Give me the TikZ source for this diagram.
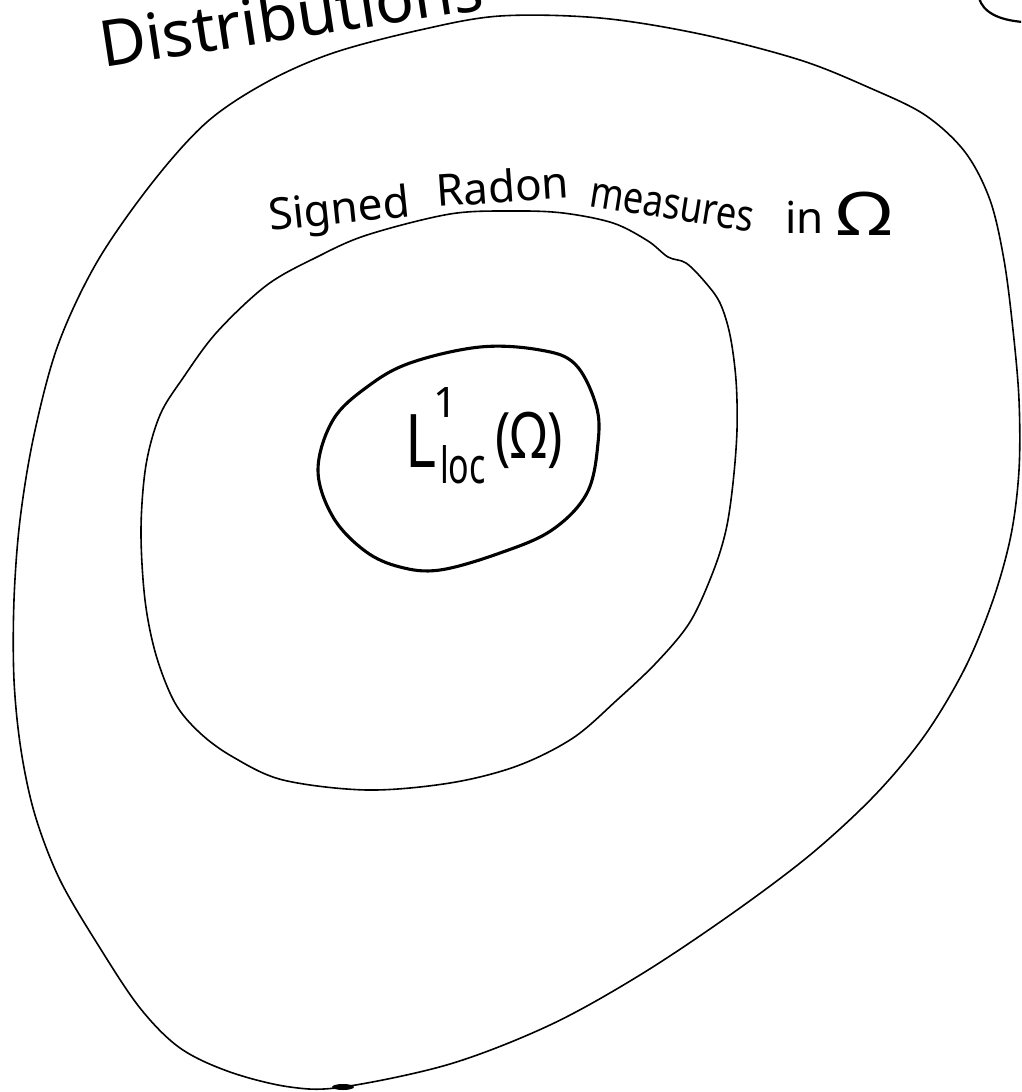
\documentclass[tikz,border=0pt]{standalone}
\usepackage{fontspec}
\setmainfont{Noto Sans}
\begin{document}
\begin{tikzpicture}[x=1pt,y=-1pt,
  thinline/.style={line width=1.6pt, line join=round, line cap=round},
  thickline/.style={line width=3.1pt, line join=round, line cap=round},
  word/.style={inner sep=0pt, anchor=base west, font=\fontsize{44}{48}\selectfont},
  glyph/.style={inner sep=0pt, anchor=base west}]
\useasboundingbox[fill=white] (0,0) rectangle (1021,1092);
\clip (0,0) rectangle (1021,1092);
% outer blob: Distributions
\draw[thinline] plot[smooth cycle, tension=0.55] coordinates {
  (152,183) (207,122) (267,82) (333,53) (420,30) (500,16) (600,18) (700,34)
  (800,60) (870,88) (925,115) (965,152) (990,200) (1004,260) (1013,330)
  (1019,400) (1019,470) (1011,535) (993,600) (965,668) (925,735) (875,795)
  (810,855) (730,915) (640,975) (550,1025) (450,1064) (343,1087) (290,1087)
  (230,1072) (180,1048) (140,1008) (100,948) (60,880) (35,815) (21,750)
  (14,680) (14,600) (20,520) (34,435) (58,345) (97,262)};
\fill (343,1087) ellipse (11pt and 3pt);
% middle blob: Signed Radon measures
\draw[thinline] plot[smooth cycle, tension=0.55] coordinates {
  (160,415) (183,378) (217,332) (267,285) (317,257) (367,235) (450,214)
  (513,211) (563,213) (613,223) (648,241) (668,257) (686,263) (705,282)
  (720,303) (730,335) (736,380) (737,430) (733,483) (726,530) (713,572)
  (690,622) (657,662) (617,700) (573,738) (517,766) (450,783) (367,790)
  (283,780) (233,757) (200,733) (175,703) (156,655) (145,600) (141,530)
  (146,465)};
% inner ellipse: L^1_loc
\draw[thickline] plot[smooth cycle, tension=0.6] coordinates {
  (318,470) (333,420) (367,387) (410,363) (480,347) (540,350) (575,364)
  (596,405) (598,443) (587,493) (552,530) (500,553) (440,570) (400,567)
  (365,551) (333,517)};
% partial circle at top right
\draw[line width=2.2pt, line cap=round] (979,-2) .. controls (983,12) and (998,20) .. (1023,22);
% labels
\node[glyph, rotate=8.7, font=\fontsize{64}{68}\selectfont] (dist) at (103,68) {Distributions};
\node[word, rotate=6] (w1) at (270,231) {Signed};
\node[word, rotate=4] (w2) at (437,207) {Radon};
\node[word, rotate=-9] (w3) at (588,206) {\scalebox{0.82}[1]{measures}};
\node[word] (w4) at (785,233) {in};
\node[glyph, font=\fontsize{60}{60}\selectfont] (w5) at (836,235) {\scalebox{1.3}[1]{Ω}};
\node[glyph, font=\fontsize{74}{74}\selectfont] (lL) at (405,467) {\scalebox{0.8}[1]{L}};
\node[glyph, font=\fontsize{42}{42}\selectfont] (lsup) at (433,417) {1};
\node[glyph, font=\fontsize{50}{50}\selectfont] (lsub) at (440,483) {\scalebox{0.68}[1]{loc}};
\node[glyph, font=\fontsize{64}{64}\selectfont] (lpar) at (495,458) {\scalebox{0.8}[1]{(Ω)}};
\end{tikzpicture}
\end{document}
